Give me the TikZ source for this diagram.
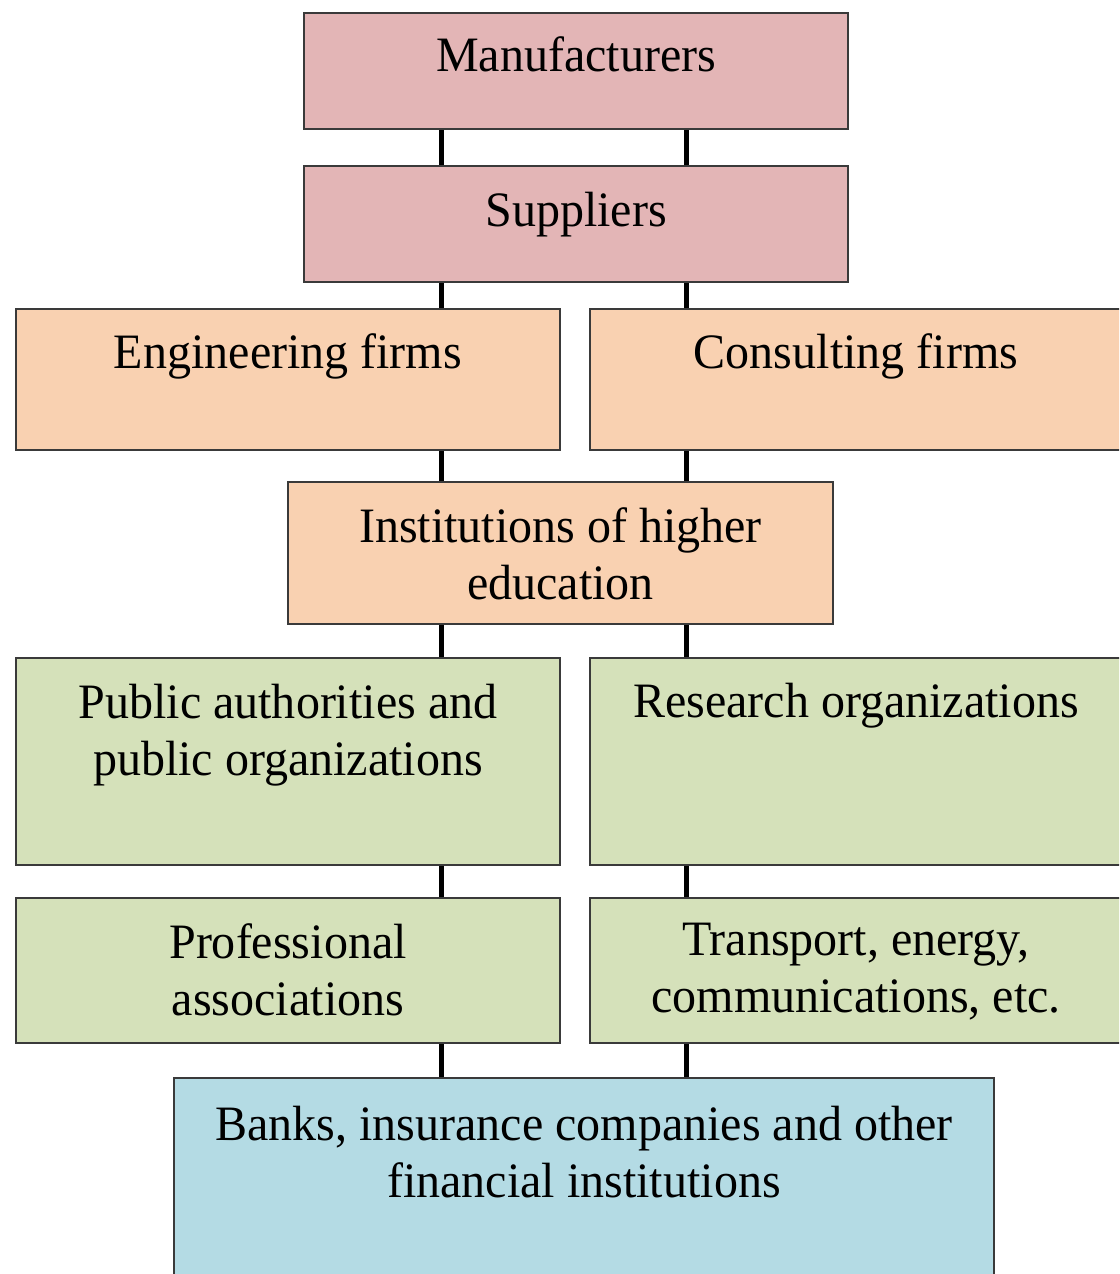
\documentclass[tikz,border=0pt]{standalone}
\usepackage{fontspec}
\setmainfont[FakeStretch=0.97]{Liberation Serif}
\definecolor{pinkfill}{HTML}{E3B5B6}
\definecolor{peachfill}{HTML}{F9D1B1}
\definecolor{greenfill}{HTML}{D5E1BA}
\definecolor{bluefill}{HTML}{B4DBE4}
\definecolor{edge}{HTML}{3A3A3A}
\tikzset{
  box/.style={draw=edge, line width=2pt, rectangle, inner sep=0pt, anchor=north west},
  lbl/.style={anchor=base, align=center, font=\fontsize{49.5}{57}\selectfont, inner sep=0pt},
  conn/.style={line width=5pt, black}
}
\begin{document}
\begin{tikzpicture}[x=1pt,y=-1pt]
\useasboundingbox (0,0) rectangle (1119,1274);
\clip (0,0) rectangle (1119,1274);
\fill[white] (0,0) rectangle (1119,1274);
\coordinate (cL) at (441,0);
\coordinate (cR) at (686,0);
% boxes
\node[box, fill=pinkfill, minimum width=544pt, minimum height=116pt] (man) at (303,12) {};
\node[box, fill=pinkfill, minimum width=544pt, minimum height=116pt] (sup) at (303,165) {};
\node[box, fill=peachfill, minimum width=544pt, minimum height=141pt] (eng) at (15,308) {};
\node[box, fill=peachfill, minimum width=545pt, minimum height=141pt] (con) at (589,308) {};
\node[box, fill=peachfill, minimum width=545pt, minimum height=142pt] (ins) at (287,481) {};
\node[box, fill=greenfill, minimum width=544pt, minimum height=207pt] (pub) at (15,657) {};
\node[box, fill=greenfill, minimum width=545pt, minimum height=207pt] (res) at (589,657) {};
\node[box, fill=greenfill, minimum width=544pt, minimum height=145pt] (pro) at (15,897) {};
\node[box, fill=greenfill, minimum width=545pt, minimum height=145pt] (tra) at (589,897) {};
\node[box, fill=bluefill, minimum width=820pt, minimum height=210pt] (ban) at (173,1077) {};
% labels
\node[lbl] (tman) at ([yshift=-59pt]man.north) {Manufacturers};
\node[lbl] (tsup) at ([yshift=-61pt]sup.north) {Suppliers};
\node[lbl] (teng) at ([yshift=-60pt]eng.north) {Engineering firms};
\node[lbl] (tcon) at ([yshift=-60pt]con.north -| 856,0) {Consulting firms};
\node[lbl, anchor=north] (tins) at ([yshift=-26pt]ins.north) {Institutions of higher\\education};
\node[lbl, anchor=north] (tpub) at ([yshift=-27pt]pub.north) {Public authorities and\\public organizations};
\node[lbl] (tres) at ([yshift=-60pt]res.north -| 856,0) {Research organizations};
\node[lbl, anchor=north] (tpro) at ([yshift=-26pt]pro.north) {Professional\\associations};
\node[lbl, anchor=north] (ttra) at ([yshift=-26pt]tra.north -| 856,0) {Transport, energy,\\communications, etc.};
\node[lbl, anchor=north] (tban) at ([yshift=-29pt]ban.north) {Banks, insurance companies and other\\financial institutions};
% connectors
\draw[conn] (man.south -| cL) -- (sup.north -| cL);
\draw[conn] (man.south -| cR) -- (sup.north -| cR);
\draw[conn] (sup.south -| cL) -- (eng.north -| cL);
\draw[conn] (sup.south -| cR) -- (con.north -| cR);
\draw[conn] (eng.south -| cL) -- (ins.north -| cL);
\draw[conn] (con.south -| cR) -- (ins.north -| cR);
\draw[conn] (ins.south -| cL) -- (pub.north -| cL);
\draw[conn] (ins.south -| cR) -- (res.north -| cR);
\draw[conn] (pub.south -| cL) -- (pro.north -| cL);
\draw[conn] (res.south -| cR) -- (tra.north -| cR);
\draw[conn] (pro.south -| cL) -- (ban.north -| cL);
\draw[conn] (tra.south -| cR) -- (ban.north -| cR);
\end{tikzpicture}
\end{document}
